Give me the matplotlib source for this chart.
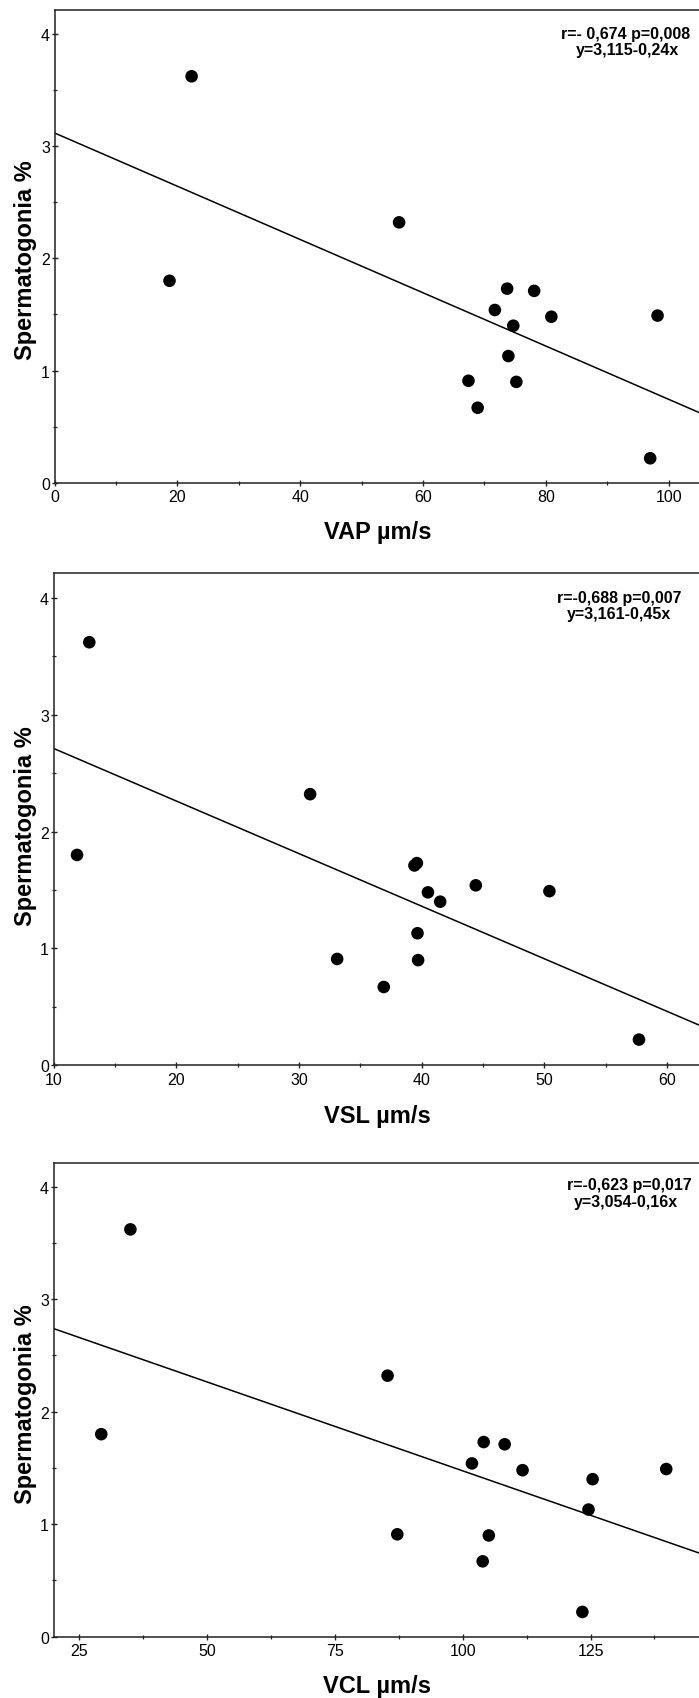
import matplotlib
matplotlib.use('Agg')
import matplotlib.pyplot as plt
from matplotlib.ticker import MultipleLocator

plt.rcParams['font.family'] = ['Liberation Sans', 'DejaVu Sans']

# ---- data ----
spermatogonia = [3.62, 1.80, 2.32, 1.73, 1.71, 1.54, 1.48, 1.49, 1.40, 1.13, 0.91, 0.90, 0.67, 0.22]
vap = [22.3, 18.7, 56.1, 73.7, 78.1, 71.7, 80.9, 98.2, 74.7, 73.9, 67.4, 75.2, 68.9, 97.0]
vsl = [12.9, 11.9, 30.9, 39.6, 39.4, 44.4, 40.5, 50.4, 41.5, 39.65, 33.1, 39.7, 36.9, 57.7]
vcl = [35.0, 29.3, 85.3, 104.1, 108.2, 101.8, 111.7, 139.8, 125.4, 124.6, 87.2, 105.1, 103.9, 123.4]

x_labels = ['VAP µm/s', 'VSL µm/s', 'VCL µm/s']
y_label = 'Spermatogonia %'
intercepts = [3.115, 3.161, 3.054]
slopes = [-0.0237, -0.045, -0.0158]
stat_lines = ['r=- 0,674 p=0,008', 'r=-0,688 p=0,007', 'r=-0,623 p=0,017']
eq_lines = ['y=3,115-0,24x', 'y=3,161-0,45x', 'y=3,054-0,16x']

W, H = 699, 1699
fig = plt.figure(figsize=(W / 100, H / 100), dpi=100)

# panel layout in pixels: left, top, bottom, x at left spine, px per x unit, major, minor
panels = [
    dict(x=vap, left=54.7, top=11.0, bottom=484.0, x0=0, ppu=6.139, major=20, minor=10,
         xlab_y=533, ylab_y=260, ann=((626, 34), (627, 50.5))),
    dict(x=vsl, left=53.7, top=574.3, bottom=1066.3, x0=10, ppu=12.27, major=10, minor=5,
         xlab_y=1117, ylab_y=826.5, ann=((619, 598), (619, 615))),
    dict(x=vcl, left=53.7, top=1164.0, bottom=1637.7, x0=20, ppu=5.113, major=25, minor=12.5,
         xlab_y=1687, ylab_y=1404.5, ann=((629, 1185.5), (626, 1203))),
]

for i, p in enumerate(panels):
    width_px = W - p['left'] + 3
    ax = fig.add_axes([p['left'] / W, 1 - p['bottom'] / H, width_px / W,
                       (p['bottom'] - p['top']) / H])
    xmax = p['x0'] + width_px / p['ppu']
    ax.set_xlim(p['x0'], xmax)
    ax.set_ylim(0, 4.21)

    ax.scatter(p['x'], spermatogonia, s=82, color='black', edgecolors='none', zorder=3)
    ax.plot([p['x0'], xmax], [intercepts[i] + slopes[i] * p['x0'], intercepts[i] + slopes[i] * xmax],
            color='black', lw=1.1, zorder=2)

    ax.spines['right'].set_visible(False)
    for s in ['left', 'bottom', 'top']:
        ax.spines[s].set_linewidth(1.1)
        ax.spines[s].set_color('#222222')

    ax.xaxis.set_major_locator(MultipleLocator(p['major']))
    ax.xaxis.set_minor_locator(MultipleLocator(p['minor']))
    ax.yaxis.set_major_locator(MultipleLocator(1))
    ax.yaxis.set_minor_locator(MultipleLocator(0.5))
    ax.tick_params(which='major', direction='inout', length=4.6, width=1.0, labelsize=11.5,
                   top=False, right=False, color='#222222')
    ax.tick_params(which='minor', direction='inout', length=2.4, width=0.9,
                   top=False, right=False, color='#222222')
    ax.tick_params(axis='y', which='major', pad=1.0)
    ax.tick_params(axis='x', which='major', pad=2.2)

    fig.text(377.5 / W, 1 - p['xlab_y'] / H, x_labels[i], ha='center', va='center',
             fontsize=17, fontweight='bold')
    fig.text(26 / W, 1 - p['ylab_y'] / H, y_label, ha='center', va='center', rotation=90,
             fontsize=17, fontweight='bold')
    (ax1, ay1), (ax2, ay2) = p['ann']
    fig.text(ax1 / W, 1 - ay1 / H, stat_lines[i], ha='center', va='center',
             fontsize=11.5, fontweight='bold')
    fig.text(ax2 / W, 1 - ay2 / H, eq_lines[i], ha='center', va='center',
             fontsize=11.5, fontweight='bold')

fig.savefig('out.png', dpi=100)
